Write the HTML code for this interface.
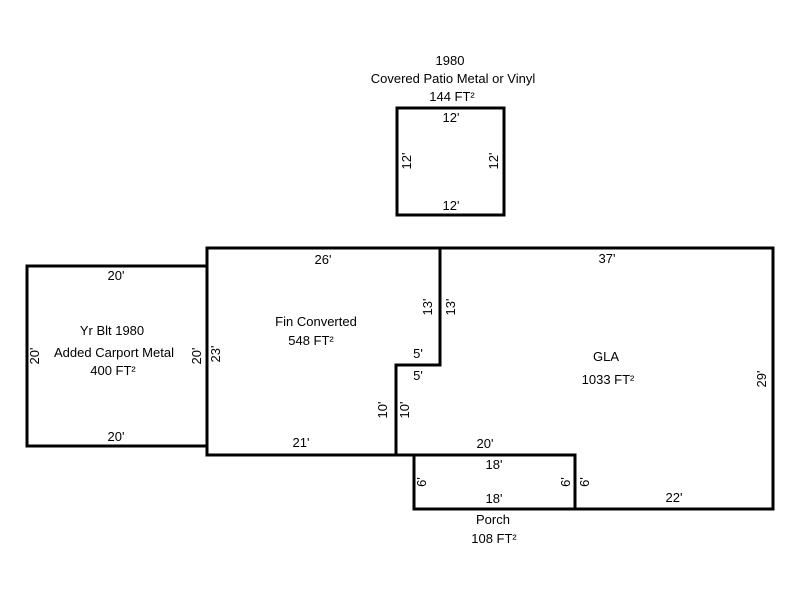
<!DOCTYPE html>
<html><head><meta charset="utf-8"><style>
html,body{margin:0;padding:0;background:#fff;}
svg text{font-family:"Liberation Sans",Arial,sans-serif;font-size:13px;fill:#000;}
</style></head><body>
<svg width="800" height="600" viewBox="0 0 800 600" xmlns="http://www.w3.org/2000/svg">
<g fill="none" stroke="#000" stroke-width="3" stroke-linejoin="miter" stroke-linecap="square">
<rect x="397" y="108" width="107" height="107"/>
<rect x="27" y="266" width="180" height="180"/>
<polyline points="207,455 207,248 773,248 773,509 575,509"/>
<polyline points="440,248 440,365 396,365 396,455"/>
<line x1="207" y1="455" x2="575" y2="455"/>
<rect x="414" y="455" width="161" height="54"/>
</g>
<g text-anchor="middle">
<text x="450" y="65">1980</text>
<text x="453" y="83">Covered Patio Metal or Vinyl</text>
<text x="452" y="101">144 FT²</text>
<text x="451" y="122">12'</text>
<text x="451" y="210">12'</text>
<text transform="translate(411,161) rotate(-90)">12'</text>
<text transform="translate(498,161) rotate(-90)">12'</text>

<text x="116" y="280">20'</text>
<text x="116" y="441">20'</text>
<text x="112" y="335">Yr Blt 1980</text>
<text x="114" y="357">Added Carport Metal</text>
<text x="113" y="375">400 FT²</text>
<text transform="translate(39,356) rotate(-90)">20'</text>
<text transform="translate(201,356) rotate(-90)">20'</text>
<text transform="translate(220,354) rotate(-90)">23'</text>

<text x="323" y="264">26'</text>
<text x="316" y="326">Fin Converted</text>
<text x="311" y="345">548 FT²</text>
<text transform="translate(432,307) rotate(-90)">13'</text>
<text transform="translate(455,307) rotate(-90)">13'</text>
<text x="418" y="358">5'</text>
<text x="418" y="380">5'</text>
<text transform="translate(387,410) rotate(-90)">10'</text>
<text transform="translate(409,410) rotate(-90)">10'</text>
<text x="301" y="447">21'</text>
<text x="485" y="448">20'</text>

<text x="607" y="263">37'</text>
<text x="606" y="361">GLA</text>
<text x="608" y="384">1033 FT²</text>
<text transform="translate(766,379) rotate(-90)">29'</text>
<text x="674" y="502">22'</text>

<text x="494" y="469">18'</text>
<text x="494" y="503">18'</text>
<text transform="translate(426,482) rotate(-90)">6'</text>
<text transform="translate(570,482) rotate(-90)">6'</text>
<text transform="translate(589,482) rotate(-90)">6'</text>
<text x="493" y="524">Porch</text>
<text x="494" y="543">108 FT²</text>
</g>
</svg>
</body></html>
